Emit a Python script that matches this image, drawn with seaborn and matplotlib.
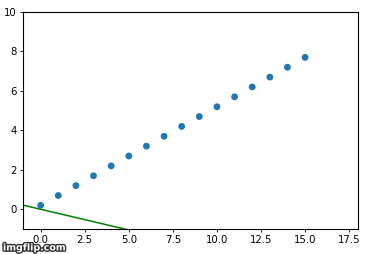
import matplotlib
matplotlib.use("Agg")
import matplotlib.pyplot as plt
import matplotlib.patheffects as pe
import seaborn as sns
import pandas as pd

x_vals = [0, 1, 2, 3, 4, 5, 6, 7, 8, 9, 10, 11, 12, 13, 14, 15]
y_vals = [0.2, 0.7, 1.2, 1.7, 2.2, 2.7, 3.2, 3.7, 4.2, 4.7, 5.2, 5.7, 6.2, 6.7, 7.2, 7.7]
line_x = [-1, 18]
line_y = [0.21, -3.78]
x_ticks = [0.0, 2.5, 5.0, 7.5, 10.0, 12.5, 15.0, 17.5]
y_ticks = [0, 2, 4, 6, 8, 10]

sns.set_style("ticks")
plt.rcParams['font.family'] = ['DejaVu Sans']

fig = plt.figure(figsize=(3.71, 2.54), dpi=100)
ax = fig.add_axes([23/371, 25/254, 335/371, 217/254])

pts = pd.DataFrame({"x": x_vals, "y": y_vals})
ln = pd.DataFrame({"x": line_x, "y": line_y})
sns.scatterplot(data=pts, x="x", y="y", ax=ax, s=24, color="#1f77b4", edgecolor="none")
sns.lineplot(data=ln, x="x", y="y", ax=ax, color="green", linewidth=1.1)

ax.set_xlim(-1, 18)
ax.set_ylim(-1, 10)
ax.set_xticks(x_ticks)
ax.set_xticklabels([f"{t:.1f}" for t in x_ticks])
ax.set_yticks(y_ticks)
ax.set_xlabel("")
ax.set_ylabel("")
for s in ax.spines.values():
    s.set_visible(True)
    s.set_color("black")
    s.set_linewidth(0.8)
ax.tick_params(labelsize=7.3, length=2.5, width=0.6, pad=2, colors="black")

fig.text(0.008, 0.014, "imgflip.com", fontsize=6.8, color="white", fontweight="bold",
         path_effects=[pe.withStroke(linewidth=2, foreground="#333333")])

fig.savefig("out.png", dpi=100)
